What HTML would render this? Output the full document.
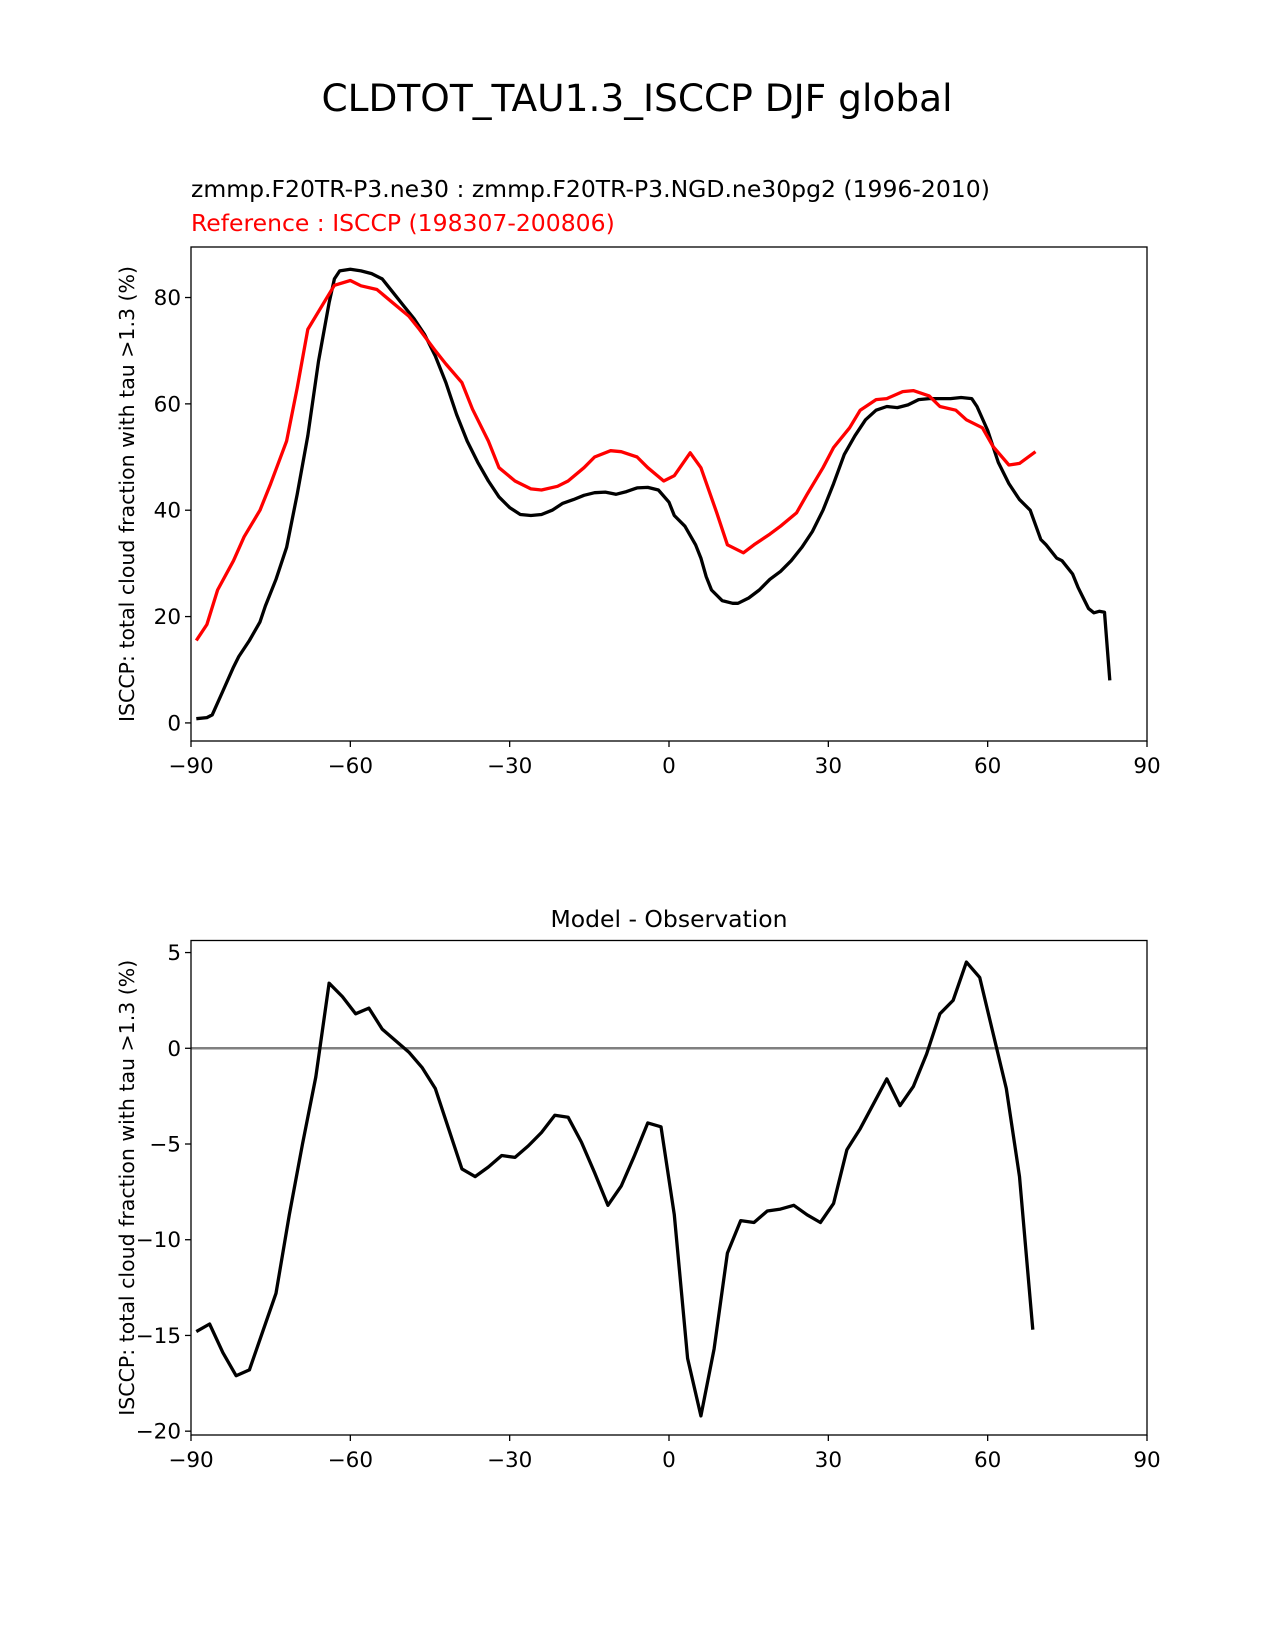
<!DOCTYPE html>
<html><head><meta charset="utf-8"><style>
html,body{margin:0;padding:0;background:#fff;}
svg{display:block;font-family:"DejaVu Sans","Liberation Sans",sans-serif;}
</style></head><body>
<svg id="fig" width="1275" height="1650" viewBox="0 0 1275 1650">
<text x="637" y="111" font-size="37.5" text-anchor="middle">CLDTOT_TAU1.3_ISCCP DJF global</text>
<text x="191" y="197" font-size="23.5">zmmp.F20TR-P3.ne30 : zmmp.F20TR-P3.NGD.ne30pg2 (1996-2010)</text>
<text x="191" y="231" font-size="23.5" fill="#ff0000">Reference : ISCCP (198307-200806)</text>
<text x="669" y="927" font-size="23.5" text-anchor="middle">Model - Observation</text>
<g id="top"></g>
<g id="bot"></g>
</svg>
<script>
const topLat = [-89,-87,-86,-84,-82,-81,-79,-77,-76,-74,-72,-70,-68,-66,-64,-63,-62,-60,-58,-56,-54,-52,-50,-48,-46,-44,-42,-40,-38,-36,-34,-32,-30,-28,-26,-24,-22,-20,-18,-16,-14,-12,-10,-8,-6,-4,-2,0,1,3,5,6,7,8,10,12,13,15,17,19,21,23,25,27,29,31,33,35,37,39,41,43,45,47,49,51,53,55,57,58,60,62,64,66,68,70,71,73,74,76,77,78,79,80,81,82,83];
const modelVals = [0.8,1,1.5,6,10.5,12.5,15.5,19,22,27,33,43,54,68,79,83.5,85,85.3,85,84.5,83.5,81,78.5,76,73,69,64,58,53,49,45.5,42.5,40.5,39.2,39,39.2,40,41.3,42,42.8,43.3,43.4,43,43.5,44.2,44.3,43.8,41.5,39,37,33.5,31,27.5,25,23,22.5,22.5,23.5,25,27,28.5,30.5,33,36,40,45,50.5,54,57,58.8,59.5,59.3,59.8,60.8,61,61,61,61.2,61,59.5,55,49,45,42,40,34.5,33.5,31,30.5,28,25.5,23.5,21.5,20.7,21,20.8,8];
const refLat = [-89,-87,-85,-82,-80,-77,-75,-72,-70,-68,-65,-63,-60,-58,-55,-52,-49,-47,-44,-42,-39,-37,-34,-32,-29,-26,-24,-21,-19,-16,-14,-11,-9,-6,-4,-1,1,4,6,9,11,14,16,19,21,24,26,29,31,34,36,39,41,44,46,49,51,54,56,59,61,64,66,69];
const refVals = [15.5,18.5,25,30.5,35,40,45,53,63,74,79,82.3,83.2,82.2,81.5,79,76.5,74,70,67.5,64,59,53,48,45.5,44,43.8,44.5,45.5,48,50,51.2,51,50,48,45.5,46.5,50.8,48,39.5,33.5,32,33.5,35.5,37,39.5,43,48,51.8,55.5,58.8,60.8,61,62.3,62.5,61.5,59.5,58.8,57,55.5,52,48.5,48.8,51];
const diffLat = [-89,-86.5,-84,-81.5,-79,-76.5,-74,-71.5,-69,-66.5,-64,-61.5,-59,-56.5,-54,-51.5,-49,-46.5,-44,-41.5,-39,-36.5,-34,-31.5,-29,-26.5,-24,-21.5,-19,-16.5,-14,-11.5,-9,-6.5,-4,-1.5,1,3.5,6,8.5,11,13.5,16,18.5,21,23.5,26,28.5,31,33.5,36,38.5,41,43.5,46,48.5,51,53.5,56,58.5,61,63.5,66,68.5];
const diffVals = [-14.8,-14.4,-15.9,-17.1,-16.8,-14.8,-12.8,-8.7,-5.0,-1.5,3.4,2.7,1.8,2.1,1.0,0.4,-0.2,-1.0,-2.1,-4.2,-6.3,-6.7,-6.2,-5.6,-5.7,-5.1,-4.4,-3.5,-3.6,-4.9,-6.5,-8.2,-7.2,-5.6,-3.9,-4.1,-8.7,-16.2,-19.2,-15.7,-10.7,-9.0,-9.1,-8.5,-8.4,-8.2,-8.7,-9.1,-8.1,-5.3,-4.2,-2.9,-1.6,-3.0,-2.0,-0.3,1.8,2.5,4.5,3.7,0.8,-2.1,-6.7,-14.7];
const xTicks = [-90,-60,-30,0,30,60,90];
const xTickLabels = ["\u221290","\u221260","\u221230","0","30","60","90"];
const topYTicks = [0,20,40,60,80];
const botYTicks = [5,0,-5,-10,-15,-20];
const botYTickLabels = ["5","0","\u22125","\u221210","\u221215","\u221220"];

const NS="http://www.w3.org/2000/svg";
function mk(parent,tag,attrs){const e=document.createElementNS(NS,tag);for(const k in attrs)e.setAttribute(k,attrs[k]);parent.appendChild(e);return e;}
const L=191,R=1147;
function xs(v){return L+(v+90)/180*(R-L);}
function panel(g,T,B,ymin,ymax,yt,ytl){
  const ys=v=>B-(v-ymin)/(ymax-ymin)*(B-T);
  yt.forEach((v,i)=>{
    const t=mk(g,'line',{x1:L-6,x2:L,y1:ys(v),y2:ys(v),stroke:'#000','stroke-width':1.3});
    
    
    const lb=mk(g,'text',{x:L-10,y:ys(v)+7.5,'font-size':21.5,'text-anchor':'end'});
    lb.textContent=ytl[i];
    
    
  });
  xTicks.forEach((v,i)=>{
    const t=mk(g,'line',{x1:xs(v),x2:xs(v),y1:B,y2:B+6,stroke:'#000','stroke-width':1.3});
    
    
    const lb=mk(g,'text',{x:xs(v),y:B+32,'font-size':21.5,'text-anchor':'middle'});
    lb.textContent=xTickLabels[i];
    
    
  });
  const yl=mk(g,'text',{transform:`translate(134,${(T+B)/2}) rotate(-90)`,'font-size':20.5,'text-anchor':'middle'});
  yl.textContent='ISCCP: total cloud fraction with tau >1.3 (%)';
  
  
  return ys;
}
function line(g,xa,ya,ys,color,name){
  const d=xa.map((x,i)=>(i?'L':'M')+xs(x).toFixed(1)+','+ys(ya[i]).toFixed(1)).join('');
  const p=mk(g,'path',{d:d,fill:'none',stroke:color,'stroke-width':3.3,'stroke-linejoin':'round'});
  
  
}
const gt=document.getElementById('top');
const ysT=panel(gt,247,741,-3.4,89.5,topYTicks,topYTicks.map(String));
line(gt,topLat,modelVals,ysT,'#000','model-line');
line(gt,refLat,refVals,ysT,'#ff0000','reference-line');
const ft=mk(gt,'rect',{x:L,y:247,width:R-L,height:494,fill:'none',stroke:'#000','stroke-width':1.3});



const gb=document.getElementById('bot');
const ysB=panel(gb,940.5,1435,-20.2,5.63,botYTicks,botYTickLabels);
const z=mk(gb,'line',{x1:L,x2:R,y1:ysB(0),y2:ysB(0),stroke:'#808080','stroke-width':2.5});


line(gb,diffLat,diffVals,ysB,'#000','difference-line');
const fb=mk(gb,'rect',{x:L,y:940.5,width:R-L,height:494.5,fill:'none',stroke:'#000','stroke-width':1.3});


</script>
</body></html>
